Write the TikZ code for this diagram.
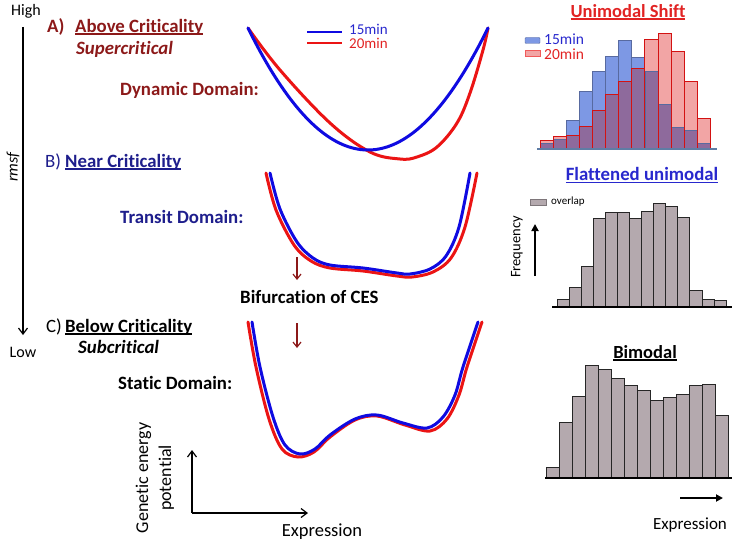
\documentclass[tikz,border=0pt]{standalone}
\usepackage{fontspec}
\setmainfont{Carlito}[Ligatures=NoCommon]
\newcommand{\myul}[1]{\setbox0\hbox{#1}\rlap{\rule[-2.4pt]{\wd0}{1.2pt}}\box0}
\usetikzlibrary{arrows.meta}
\definecolor{dred}{RGB}{140,25,25}
\definecolor{navy}{RGB}{30,30,140}
\definecolor{cblue}{RGB}{15,10,225}
\definecolor{cred}{RGB}{235,20,20}
\definecolor{tblue}{RGB}{40,40,205}
\definecolor{tred}{RGB}{225,35,35}
\definecolor{hblue}{RGB}{125,152,228}
\definecolor{hpink}{RGB}{242,165,165}
\definecolor{hpurple}{RGB}{142,106,156}
\definecolor{hgrey}{RGB}{180,169,174}
\definecolor{baseblue}{RGB}{95,125,165}
\begin{document}
\begin{tikzpicture}[x=1pt,y=-1pt,
  head/.style={font=\fontsize{18.8}{22}\selectfont\bfseries, anchor=west, inner sep=0pt},
  plain/.style={font=\fontsize{18.8}{22}\selectfont, anchor=west, inner sep=0pt},
  lab/.style={font=\fontsize{16}{19}\selectfont, inner sep=0pt},
  leg/.style={font=\fontsize{15}{17}\selectfont, inner sep=0pt, anchor=west},
  curve/.style={line width=3pt, line join=round, line cap=round},
  legline/.style={line width=2.6pt},
  barb/.style={-{Straight Barb[length=6pt,width=9pt,line width=1.2pt]}},
  axis/.style={line width=1.6pt, barb},
  redarrow/.style={line width=1.6pt, draw=dred, -{Straight Barb[length=5pt,width=8pt,line width=1.2pt]}},
  bigarrow/.style={line width=2pt, -{Triangle[length=7pt,width=7pt]}},
  gbar/.style={fill=hgrey, draw=black!85, line width=0.8pt},
]
\useasboundingbox (0,0) rectangle (738,543);

% ---------- left rmsf axis ----------
\node[lab] (high) at (26,11) {High};
\node[lab] (low) at (23,352) {Low};
\node[lab, rotate=90, font=\fontsize{16}{19}\selectfont\itshape] (rmsf) at (13,167) {rmsf};
\coordinate (rtop) at (23,27);
\coordinate (rbot) at (23,335);
\draw[axis] (rtop) -- (rbot);

% ---------- A ----------
\node[head, text=dred] (aA) at (47,27) {A)};
\node[head, text=dred] (aAbove) at (75,27) {\myul{Above Criticality}};
\node[head, text=dred, font=\fontsize{18.8}{22}\selectfont\bfseries\itshape] (aSup) at (76,49) {Supercritical};
\node[head, text=dred] (aDyn) at (120,90) {Dynamic Domain:};

\draw[curve, cred] plot[smooth, tension=0.6] coordinates {(248,28) (280,70) (330,123) (370,152) (400,159) (417,157) (437,147) (457,123) (470,93) (483,50) (488,28)};
\draw[curve, cblue] plot[domain=248:488, samples=80] (\x, {150-122*((\x-368)/120)^2});

\coordinate (lb1) at (307,32); \coordinate (lb2) at (342,32);
\coordinate (lr1) at (307,43); \coordinate (lr2) at (342,43);
\draw[legline, cblue] (lb1) -- (lb2);
\draw[legline, cred] (lr1) -- (lr2);
\node[leg, text=tblue] (l15) at (349,29.5) {15min};
\node[leg, text=tred] (l20) at (349,43.5) {20min};

% ---------- B ----------
\node[plain, text=navy] (bB) at (45,162) {B)};
\node[head, text=navy] (bNear) at (65,162) {\myul{Near Criticality}};
\node[head, text=navy] (bTra) at (120,217) {Transit Domain:};

\draw[curve, cred] plot[smooth, tension=0.55] coordinates {(266,173) (276,210) (294,245) (311,261) (330,268) (363,271) (397,276) (412,277) (433,272) (451,258) (465,227) (477,173)};
\draw[curve, cblue] plot[smooth, tension=0.55] coordinates {(270,173) (280,209) (297,242) (313,258) (330,265) (363,268) (397,273) (410,274) (430,269) (446,256) (459,227) (470,173)};

\node[head] (bif) at (240,297) {Bifurcation of CES};
\coordinate (ra1) at (297,257); \coordinate (ra2) at (297,280);
\coordinate (rb1) at (297,323); \coordinate (rb2) at (297,348);
\draw[redarrow] (ra1) -- (ra2);
\draw[redarrow] (rb1) -- (rb2);

% ---------- C ----------
\node[plain] (cC) at (46,327) {C)};
\node[head] (cBel) at (65,327) {\myul{Below Criticality}};
\node[head, font=\fontsize{18.8}{22}\selectfont\bfseries\itshape] (cSub) at (78,347) {Subcritical};
\node[head] (cSta) at (118,383) {Static Domain:};

\draw[curve, cred] plot[smooth, tension=0.55] coordinates {(248,322) (256,367) (269,419) (282,449) (298,457) (314,452) (330,437) (355,420) (377,416) (405,425) (430,431) (447,419) (459,395) (467,367) (482,322)};
\draw[curve, cblue] plot[smooth, tension=0.55] coordinates {(252,322) (260,367) (273,417) (285,445) (300,454) (315,449) (330,435) (355,419) (377,415) (403,423) (427,428) (443,417) (455,395) (463,367) (478,322)};

% ---------- bottom-left axes ----------
\coordinate (org) at (192,513);
\coordinate (yend) at (192,450);
\coordinate (xend) at (308,513);
\draw[axis] (org) -- (yend);
\draw[axis] (org) -- (xend);
\node[lab, font=\fontsize{18.5}{21}\selectfont] (exp1) at (322,532) {Expression};
\node[lab, rotate=90, align=center, font=\fontsize{18}{23}\selectfont] (gep) at (155,478) {Genetic energy\\potential};

% ---------- right panel A: unimodal shift ----------
\node[lab, font=\fontsize{18.5}{21}\selectfont\bfseries, text=tred] (tUni) at (628,12) {\myul{Unimodal Shift}};
\foreach \b/\r [count=\i from 0] in {143.3/140.7, 139.3/136.7, 120/135, 91.7/126, 71/110.7, 56.7/94.3, 40.7/81, 57.3/68.3, 71/39.3, 104.3/33.3, 127.3/51.7, 130/81, 143.3/118.3}{
  \pgfmathsetmacro\xa{540+\i*13.1}
  \pgfmathsetmacro\xb{\xa+13.1}
  \pgfmathsetmacro\lo{max(\b,\r)}
  \fill[hblue] (\xa,148) rectangle (\xb,\b);
  \fill[hpink] (\xa,148) rectangle (\xb,\r);
  \fill[hpurple] (\xa,148) rectangle (\xb,\lo);
  \draw[draw=hblue!70!black, line width=0.5pt] (\xa,148) rectangle (\xb,\b);
  \draw[draw=cred!90!black, line width=0.8pt] (\xa,148) rectangle (\xb,\r);
}
\coordinate (ba1) at (537,149); \coordinate (ba2) at (717,149);
\draw[line width=2pt, baseblue] (ba1) -- (ba2);
\node[draw=hblue!70!black, fill=hblue, minimum width=15pt, minimum height=6pt, inner sep=0pt, rounded corners=1pt] (kb) at (532.5,40.5) {};
\node[draw=cred!70, fill=hpink, minimum width=15pt, minimum height=6pt, inner sep=0pt] (kr) at (532.5,53.5) {};
\node[leg, font=\fontsize{15.5}{17}\selectfont, text=tblue] (k15) at (544,39.5) {15min};
\node[leg, font=\fontsize{15.5}{17}\selectfont, text=tred] (k20) at (544,54) {20min};

% ---------- right panel B: flattened unimodal ----------
\node[lab, font=\fontsize{18.8}{21}\selectfont\bfseries, text=tblue] (tFla) at (642,175) {\myul{Flattened unimodal}};
\node[fill=hgrey, draw=hgrey!70!black, minimum width=16pt, minimum height=6pt, inner sep=0pt] (ko) at (538,202.5) {};
\node[lab, anchor=west, font=\fontsize{11}{13}\selectfont] (kov) at (551,202) {overlap};
\node[lab, rotate=90, font=\fontsize{14.5}{17}\selectfont] (freq) at (517,247) {Frequency};
\coordinate (fa1) at (535,276); \coordinate (fa2) at (535,224);
\draw[bigarrow] (fa1) -- (fa2);
\foreach \t [count=\i from 0] in {299.3, 287.3, 266.7, 218.3, 212.3, 212.3, 218.3, 211.7, 203.3, 206, 217.3, 290, 299.3, 300.7}{
  \pgfmathsetmacro\xa{557.3+\i*12.05}
  \pgfmathsetmacro\xb{\xa+12.05}
  \draw[gbar] (\xa,306.7) rectangle (\xb,\t);
}
\coordinate (bb1) at (552,307); \coordinate (bb2) at (732,307);
\draw[line width=2pt] (bb1) -- (bb2);

% ---------- right panel C: bimodal ----------
\node[lab, font=\fontsize{18.5}{21}\selectfont\bfseries] (tBim) at (645,353) {\myul{Bimodal}};
\foreach \t [count=\i from 0] in {467.3, 422.7, 396, 365, 369.3, 378.7, 385.3, 390.7, 400, 397.7, 394, 385.3, 384.3, 415.3}{
  \pgfmathsetmacro\xa{546.7+\i*12.95}
  \pgfmathsetmacro\xb{\xa+12.95}
  \draw[gbar] (\xa,477.3) rectangle (\xb,\t);
}
\coordinate (bc1) at (545,478); \coordinate (bc2) at (732,478);
\draw[line width=2pt] (bc1) -- (bc2);
\coordinate (ea1) at (680,498); \coordinate (ea2) at (723,498);
\draw[bigarrow] (ea1) -- (ea2);
\node[lab, font=\fontsize{17}{20}\selectfont] (exp2) at (690,525) {Expression};
\end{tikzpicture}
\end{document}
